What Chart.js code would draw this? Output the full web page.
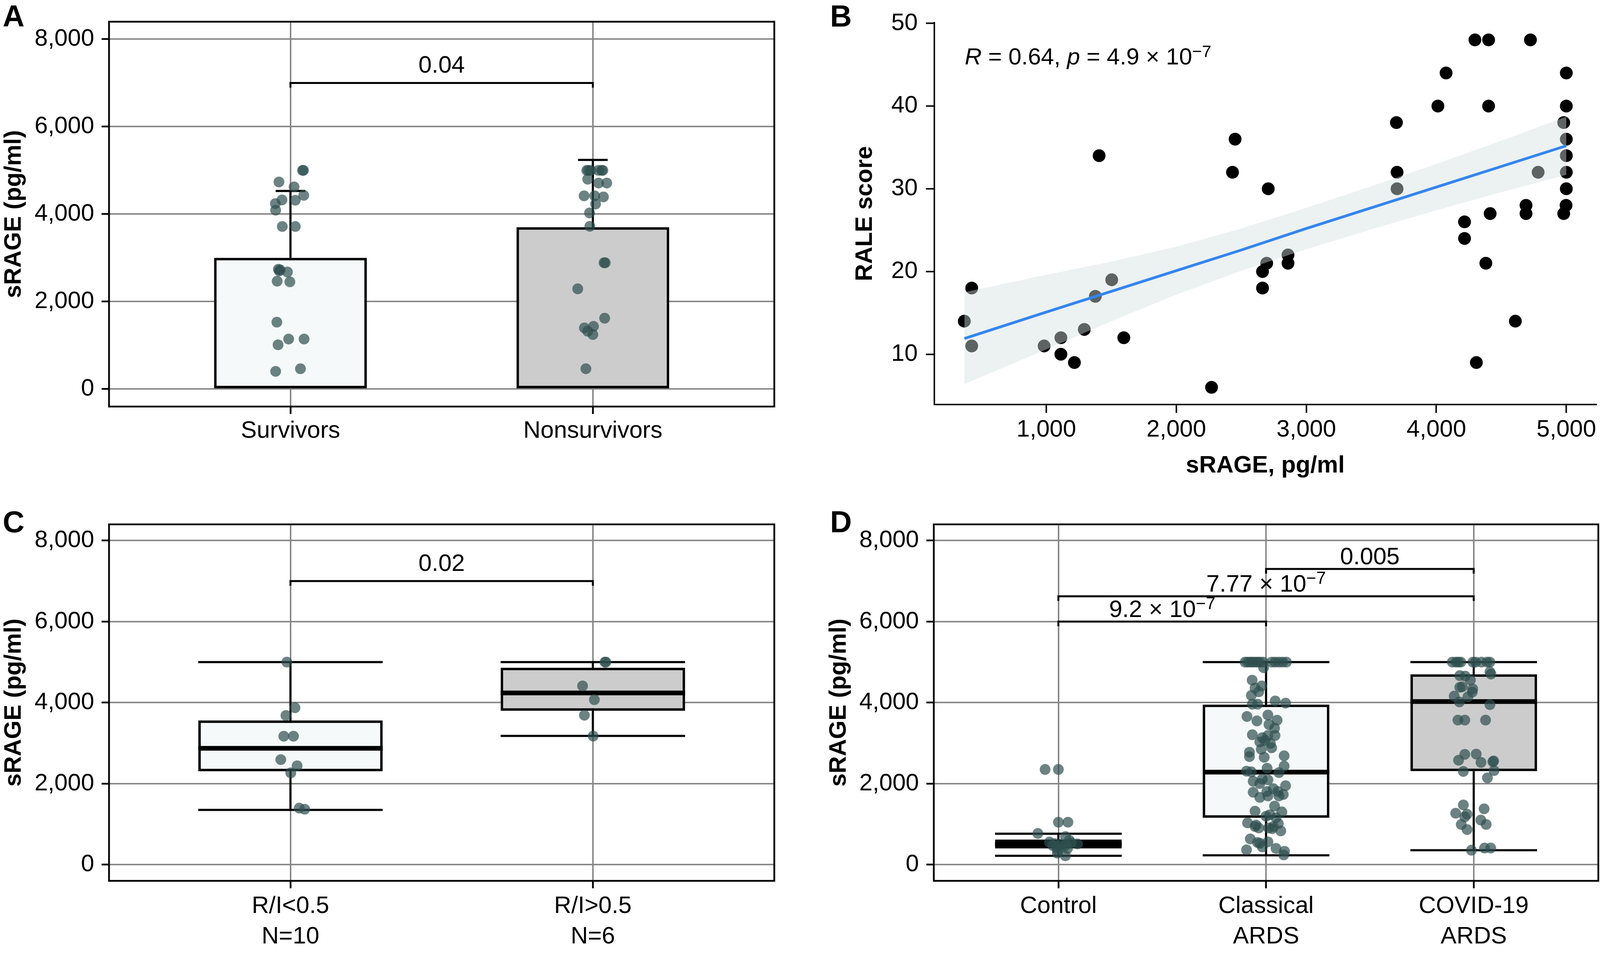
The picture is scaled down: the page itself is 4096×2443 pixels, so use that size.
<!DOCTYPE html>
<html>
<head>
<meta charset="utf-8">
<script src="https://cdn.jsdelivr.net/npm/chart.js@4.4.1/dist/chart.umd.min.js"></script>
<style>
html, body { margin: 0; padding: 0; background: #fff; width: 4096px; height: 2443px; overflow: hidden; }
canvas { position: absolute; }
.tag { position: absolute; font: bold 77px 'Liberation Sans', Arial, sans-serif; line-height: 77px; color: #000; }
</style>
</head>
<body>
<div class="tag" style="left:7px;top:3px">A</div>
<div class="tag" style="left:2125px;top:3px">B</div>
<div class="tag" style="left:7px;top:1298px">C</div>
<div class="tag" style="left:2125px;top:1298px">D</div>
<canvas id="cA" width="2000" height="1180" style="left:0;top:0"></canvas>
<canvas id="cB" width="2100" height="1230" style="left:2100px;top:0"></canvas>
<canvas id="cC" width="2000" height="1193" style="left:0;top:1250px"></canvas>
<canvas id="cD" width="2100" height="1193" style="left:2100px;top:1250px"></canvas>
<script>
// shared y ticks for the sRAGE panels
const sTicks = [0, 2000, 4000, 6000, 8000];

// A: survivors vs nonsurvivors (mean bar + SD)
const groupsA = ['Survivors', 'Nonsurvivors'];
const meanA = [3000, 3700];
const sdTopA = [4530, 5240];
const survY = [5000,5000,4736,4624,4430,4325,4318,4240,4090,3717,3717,2740,2725,2702,2676,2467,2452,1530,1143,1143,1012,404,464];
const survJ = [.043,.040,-.038,.012,.044,-.028,.016,-.050,-.049,-.027,.016,-.040,-.034,-.037,-.010,-.044,-.002,-.045,-.006,.045,-.041,-.049,.033];
const nonY = [5000,5000,5000,5000,5000,5000,4799,4710,4710,4419,4419,4393,4232,4027,3721,2888,2888,2292,1620,1433,1397,1322,1247,464];
const nonJ = [-.020,-.007,.018,.029,.033,-.015,-.017,.019,.046,-.029,.006,.035,.009,-.011,-.010,.041,.037,-.050,.039,.002,-.028,-.017,0,-.023];
const sigAFrom = [1], sigATo = [2], sigAY = [7000], sigALab = ['0.04'];

// B: RALE vs sRAGE
const srage = [1406,2452,2432,2707,426,369,426,1503,1377,1292,1112,983,1112,1216,1596,2271,2663,2695,2663,4297,4402,4724,4075,5000,4012,4402,5000,3693,4980,5000,5000,4783,5000,3698,3698,5000,4690,4690,4998,4980,4414,4217,4217,4381,4608,4308,2859,2859];
const rale = [34,36,32,30,18,14,11,19,17,13,12,11,10,9,12,6,20,21,18,48,48,48,44,44,40,40,40,38,38,36,34,32,32,32,30,30,28,27,28,27,27,26,24,21,14,9,22,21];
const fitX = [370, 1000, 1500, 2000, 2500, 3000, 3500, 4000, 4500, 5000];
const fitY = [11.9, 15.1, 17.6, 20.1, 22.6, 25.2, 27.7, 30.2, 32.7, 35.2];
const fitHi = [17.5, 19.6, 21.2, 23.0, 25.2, 27.7, 30.3, 33.0, 35.8, 38.7];
const fitLo = [6.4, 10.6, 14.0, 17.2, 20.1, 22.7, 25.1, 27.4, 29.6, 31.7];
const bXTicks = [1000, 2000, 3000, 4000, 5000];
const bYTicks = [10, 20, 30, 40, 50];

// C: R/I ratio boxplots
const groupsC = [['R/I<0.5', 'N=10'], ['R/I>0.5', 'N=6']];
const minC = [1351, 3179], q1C = [2307, 3800], medC = [2871, 4239], q3C = [3560, 4860], maxC = [5000, 5000];
const lowY = [5000,3873,3682,3170,3170,2593,2440,2266,1396,1368];
const lowJ = [-.012,.015,-.015,-.022,.010,-.032,.022,.001,.029,.047];
const highY = [5000,5000,4412,4073,3688,3173];
const highJ = [.043,.040,-.034,.005,-.028,.001];
const sigCFrom = [1], sigCTo = [2], sigCY = [7000], sigCLab = ['0.02'];

// D: control vs classical vs COVID-19 ARDS
const groupsD = ['Control', ['Classical', 'ARDS'], ['COVID-19', 'ARDS']];
const minD = [218, 231, 357], q1D = [400, 1159, 2309], medD = [503, 2284, 4026], q3D = [618, 3952, 4698], maxD = [764, 5000, 5000];
const ctrlY = [2350,2350,1048,1048,770,694,557,520,500,480,540,512,470,450,430,600,350,285,218,400];
const ctrlJ = [-.064,0,0,.046,-.099,.034,-.043,-.018,.009,.035,.062,.092,-.027,.018,-.009,.053,-.004,-.005,.034,.044];
const classY = [5000,5000,5000,5000,5000,5000,5000,5000,5000,5000,5000,5000,5000,4862,4555,4412,4268,4178,3962,3962,4041,3987,3657,3548,3693,3566,3459,3369,3207,3135,3189,3189,3028,3064,2992,2884,2776,2668,2650,2686,2380,2434,2308,2290,2272,2057,2003,2093,1949,1787,1661,1805,1697,1805,1697,1733,1320,1446,1302,1194,1158,1032,942,906,906,942,834,636,528,438,564,402,366,330,240,546,888,978,1014,2111,1877,1230,4358,2848];
const classJ = [-.101,-.089,-.076,-.066,-.053,-.041,-.030,-.014,.027,.044,.062,.080,.098,-.012,-.067,-.021,-.035,-.071,-.041,-.066,.044,.094,-.092,-.044,.009,.053,.014,.041,-.066,-.018,.009,.043,-.030,-.005,.021,.027,-.080,-.080,-.009,.087,.005,.087,-.094,-.071,.062,-.062,-.030,.009,.094,-.062,-.030,.004,.009,.057,.062,.083,-.053,.041,.076,0,.048,-.089,-.053,-.035,.012,.035,.071,-.076,-.030,-.018,.009,.048,-.094,.089,.085,-.041,.030,-.048,.059,-.018,.035,.018,-.053,-.023];
const covY = [5000,5000,5000,5000,5000,5000,5000,5000,5000,4666,4655,4560,4703,4760,4379,4390,4340,4260,4160,4142,4016,3950,3569,3569,3569,2722,2729,2578,2524,2560,2542,2300,2322,2142,1474,1377,1270,1245,1180,1100,992,992,866,357,410,410];
const covJ = [-.103,-.085,-.074,-.062,-.004,.009,.037,.064,.078,-.067,-.041,-.016,.083,.078,-.067,-.055,-.005,-.007,-.094,-.028,-.069,.078,-.076,-.043,.057,-.043,.012,-.073,.035,.096,.092,-.050,.098,.066,-.050,.050,-.087,-.032,-.043,.034,-.060,.060,-.032,-.011,.052,.082];
const sigDFrom = [2, 1, 1], sigDTo = [3, 3, 2], sigDY = [7300, 6625, 6000];
const sigDLab = ['0.005', '7.77 × 10^−7', '9.2 × 10^−7'];

const FONT = "'Liberation Sans', Arial, Helvetica, sans-serif";
Chart.defaults.font.family = FONT;
Chart.defaults.color = '#000';
Chart.defaults.animation = false;
Chart.defaults.plugins.legend.display = false;
Chart.defaults.plugins.tooltip.enabled = false;

const LIGHT = '#F5F9FA', GREY = '#CCCCCC', DOT = 'rgba(47,79,79,0.7)';
const GRID = { color: '#858585', lineWidth: 3.8, tickColor: '#000', tickWidth: 4.5, tickLength: 19, offset: false };

function jitter(vals, jit, cat) { return vals.map((v, i) => ({ x: cat + jit[i], y: v })); }

// line segments separated by gaps
function segs(list) {
  const out = [];
  list.forEach(s => { out.push({ x: s[0], y: s[1] }, { x: s[2], y: s[3] }, { x: s[2], y: null }); });
  return out;
}

function toParts(label) {
  const p = label.split('^');
  return p.length > 1 ? [{ t: p[0] }, { t: p[1], sup: true }] : [{ t: p[0] }];
}
function richFont(p, size) { return (p.it ? 'italic ' : '') + (p.sup ? size * 0.72 : size) + 'px ' + FONT; }
function measureRich(ctx, parts, size) {
  let w = 0;
  parts.forEach(p => { ctx.font = richFont(p, size); w += ctx.measureText(p.t).width; });
  return w;
}
function drawRich(ctx, parts, x, y, size) {
  ctx.textAlign = 'left'; ctx.textBaseline = 'alphabetic';
  parts.forEach(p => {
    ctx.font = richFont(p, size);
    ctx.fillText(p.t, x, p.sup ? y - size * 0.33 : y);
    x += ctx.measureText(p.t).width;
  });
}

const framePlugin = {
  id: 'frame',
  afterDatasetsDraw(chart) {
    const { ctx, chartArea: a } = chart;
    ctx.save();
    ctx.strokeStyle = '#000'; ctx.lineWidth = 4.5;
    ctx.strokeRect(a.left, a.top, a.right - a.left, a.bottom - a.top);
    ctx.restore();
  }
};

function sigPlugin(from, to, ys, labels, gap) {
  return {
    id: 'sig',
    afterDatasetsDraw(chart) {
      const { ctx } = chart, x = chart.scales.x, y = chart.scales.y;
      ctx.save();
      ctx.strokeStyle = '#000'; ctx.fillStyle = '#000'; ctx.lineWidth = 5;
      ys.forEach((v, i) => {
        const x1 = x.getPixelForValue(from[i]), x2 = x.getPixelForValue(to[i]), py = y.getPixelForValue(v);
        ctx.beginPath();
        ctx.moveTo(x1, py + 12); ctx.lineTo(x1, py); ctx.lineTo(x2, py); ctx.lineTo(x2, py + 12);
        ctx.stroke();
        const parts = toParts(labels[i]);
        const w = measureRich(ctx, parts, 61);
        drawRich(ctx, parts, (x1 + x2) / 2 - w / 2, py - gap, 61);
      });
      ctx.restore();
    }
  };
}

function catScales(labels, xmax, yw, xh, lh) {
  return {
    x: {
      type: 'linear', min: 0.4, max: xmax, offset: false,
      afterFit: s => { s.height = xh; },
      afterBuildTicks: s => { s.ticks = labels.map((_, i) => ({ value: i + 1 })); },
      grid: GRID, border: { display: false },
      ticks: { autoSkip: false, maxRotation: 0, padding: 7, font: { size: 61, lineHeight: lh }, callback: v => labels[v - 1] }
    },
    y: {
      min: -400, max: 8400,
      afterFit: s => { s.width = yw; },
      afterBuildTicks: s => { s.ticks = sTicks.map(v => ({ value: v })); },
      grid: GRID, border: { display: false },
      ticks: { padding: 19, font: { size: 61 }, callback: v => v.toLocaleString('en-US') },
      title: { display: true, text: 'sRAGE (pg/ml)', font: { size: 61, weight: 'bold' }, padding: 0 }
    }
  };
}

function boxDatasets(q1, med, q3, mn, mx, fills, half) {
  const whisk = [], caps = [], meds = [];
  q1.forEach((_, i) => {
    const c = i + 1;
    whisk.push([c, q3[i], c, mx[i]], [c, q1[i], c, mn[i]]);
    caps.push([c - half, mx[i], c + half, mx[i]], [c - half, mn[i], c + half, mn[i]]);
    meds.push([c - half, med[i], c + half, med[i]]);
  });
  return [
    { type: 'bar', data: q1.map((q, i) => ({ x: i + 1, y: [q, q3[i]] })), backgroundColor: fills,
      borderColor: '#000', borderWidth: 6.5, borderSkipped: false, barPercentage: half * 2, categoryPercentage: 1, order: 4 },
    { type: 'line', data: segs(whisk.concat(caps)), borderColor: '#000', borderWidth: 5.5, pointRadius: 0, fill: false, spanGaps: false, order: 3 },
    { type: 'line', data: segs(meds), borderColor: '#000', borderWidth: 12, pointRadius: 0, fill: false, spanGaps: false, order: 2 }
  ];
}

// ---- Panel A
const capHalfA = 0.049;
const errSegs = [];
meanA.forEach((m, i) => {
  errSegs.push([i + 1, m, i + 1, sdTopA[i]], [i + 1 - capHalfA, sdTopA[i], i + 1 + capHalfA, sdTopA[i]]);
});
new Chart(document.getElementById('cA'), {
  type: 'bar',
  data: { datasets: [
    { type: 'bar', data: meanA.map((m, i) => ({ x: i + 1, y: m })), backgroundColor: [LIGHT, GREY],
      borderColor: '#000', borderWidth: 6.5, borderSkipped: false, barPercentage: 0.505, categoryPercentage: 1, order: 3 },
    { type: 'line', data: segs(errSegs), borderColor: '#000', borderWidth: 5.5, pointRadius: 0, fill: false, spanGaps: false, order: 2 },
    { type: 'scatter', data: jitter(survY, survJ, 1).concat(jitter(nonY, nonJ, 2)), backgroundColor: DOT, borderWidth: 0, pointRadius: 13.8, order: 1 }
  ] },
  options: {
    responsive: false,
    layout: { padding: { left: 0, top: 48.1, right: 17.8, bottom: 0 } },
    scales: catScales(groupsA, 2.6, 279.1, 138.9, 1.2)
  },
  plugins: [framePlugin, sigPlugin(sigAFrom, sigATo, sigAY, sigALab, 26)]
});

// ---- Panel C
new Chart(document.getElementById('cC'), {
  type: 'bar',
  data: { datasets: boxDatasets(q1C, medC, q3C, minC, maxC, [LIGHT, GREY], 0.305).concat([
    { type: 'scatter', data: jitter(lowY, lowJ, 1).concat(jitter(highY, highJ, 2)), backgroundColor: DOT, borderWidth: 0, pointRadius: 13.8, order: 1 }
  ]) },
  options: {
    responsive: false,
    layout: { padding: { left: 0, top: 92.8, right: 17.8, bottom: 0 } },
    scales: catScales(groupsC, 2.6, 279.1, 187.3, 1.28)
  },
  plugins: [framePlugin, sigPlugin(sigCFrom, sigCTo, sigCY, sigCLab, 26)]
});

// ---- Panel D
new Chart(document.getElementById('cD'), {
  type: 'bar',
  data: { datasets: boxDatasets(q1D, medD, q3D, minD, maxD, [LIGHT, LIGHT, GREY], 0.305).concat([
    { type: 'scatter', data: jitter(ctrlY, ctrlJ, 1).concat(jitter(classY, classJ, 2), jitter(covY, covJ, 3)),
      backgroundColor: DOT, borderWidth: 0, pointRadius: 13.8, order: 1 }
  ]) },
  options: {
    responsive: false,
    layout: { padding: { left: 11.4, top: 92.8, right: 108.3, bottom: 0 } },
    scales: catScales(groupsD, 3.6, 279.1, 187.3, 1.28)
  },
  plugins: [framePlugin, sigPlugin(sigDFrom, sigDTo, sigDY, sigDLab, 12)]
});

// ---- Panel B
const noteB = [{ t: 'R', it: true }, { t: ' = 0.64, ' }, { t: 'p', it: true }, { t: ' = 4.9 × 10' }, { t: '−7', sup: true }];
const notePlugin = {
  id: 'note',
  afterDatasetsDraw(chart) {
    const { ctx, chartArea: a } = chart;
    ctx.save(); ctx.fillStyle = '#000';
    drawRich(ctx, noteB, a.left + 78.3, a.top + 107.8, 60);
    ctx.restore();
  }
};
const AXB = { drawOnChartArea: false, drawTicks: true, tickLength: 21, tickColor: '#000', tickWidth: 3.8 };
new Chart(document.getElementById('cB'), {
  type: 'line',
  data: { datasets: [
    { type: 'scatter', data: srage.map((x, i) => ({ x: x, y: rale[i] })), backgroundColor: '#000', borderWidth: 0, pointRadius: 16.4, order: 3 },
    { type: 'line', data: fitX.map((x, i) => ({ x: x, y: fitHi[i] })), fill: '+1', backgroundColor: 'rgba(212,224,224,0.44)',
      borderColor: 'rgba(0,0,0,0)', borderWidth: 0, pointRadius: 0, order: 2 },
    { type: 'line', data: fitX.map((x, i) => ({ x: x, y: fitLo[i] })), fill: false,
      borderColor: 'rgba(0,0,0,0)', borderWidth: 0, pointRadius: 0, order: 2 },
    { type: 'line', data: fitX.map((x, i) => ({ x: x, y: fitY[i] })), fill: false, borderColor: '#3385EE', borderWidth: 7, pointRadius: 0, order: 1 }
  ] },
  options: {
    responsive: false,
    layout: { padding: { left: 78.4, top: 52.5, right: 113, bottom: 0 } },
    scales: {
      x: {
        type: 'linear', min: 137, max: 5232,
        afterFit: s => { s.height = 193.6; },
        afterBuildTicks: s => { s.ticks = bXTicks.map(v => ({ value: v })); },
        grid: AXB, border: { display: true, color: '#000', width: 3.8 },
        ticks: { autoSkip: false, maxRotation: 0, padding: 7, font: { size: 61 }, callback: v => v.toLocaleString('en-US') },
        title: { display: true, text: 'sRAGE, pg/ml', font: { size: 61, weight: 'bold' }, padding: 0 }
      },
      y: {
        type: 'linear', min: 3.9, max: 50.1,
        afterFit: s => { s.width = 213; },
        afterBuildTicks: s => { s.ticks = bYTicks.map(v => ({ value: v })); },
        grid: AXB, border: { display: true, color: '#000', width: 3.8 },
        ticks: { padding: 21, font: { size: 61 } },
        title: { display: true, text: 'RALE score', font: { size: 61, weight: 'bold' }, padding: 0 }
      }
    }
  },
  plugins: [notePlugin]
});
</script>
</body>
</html>
